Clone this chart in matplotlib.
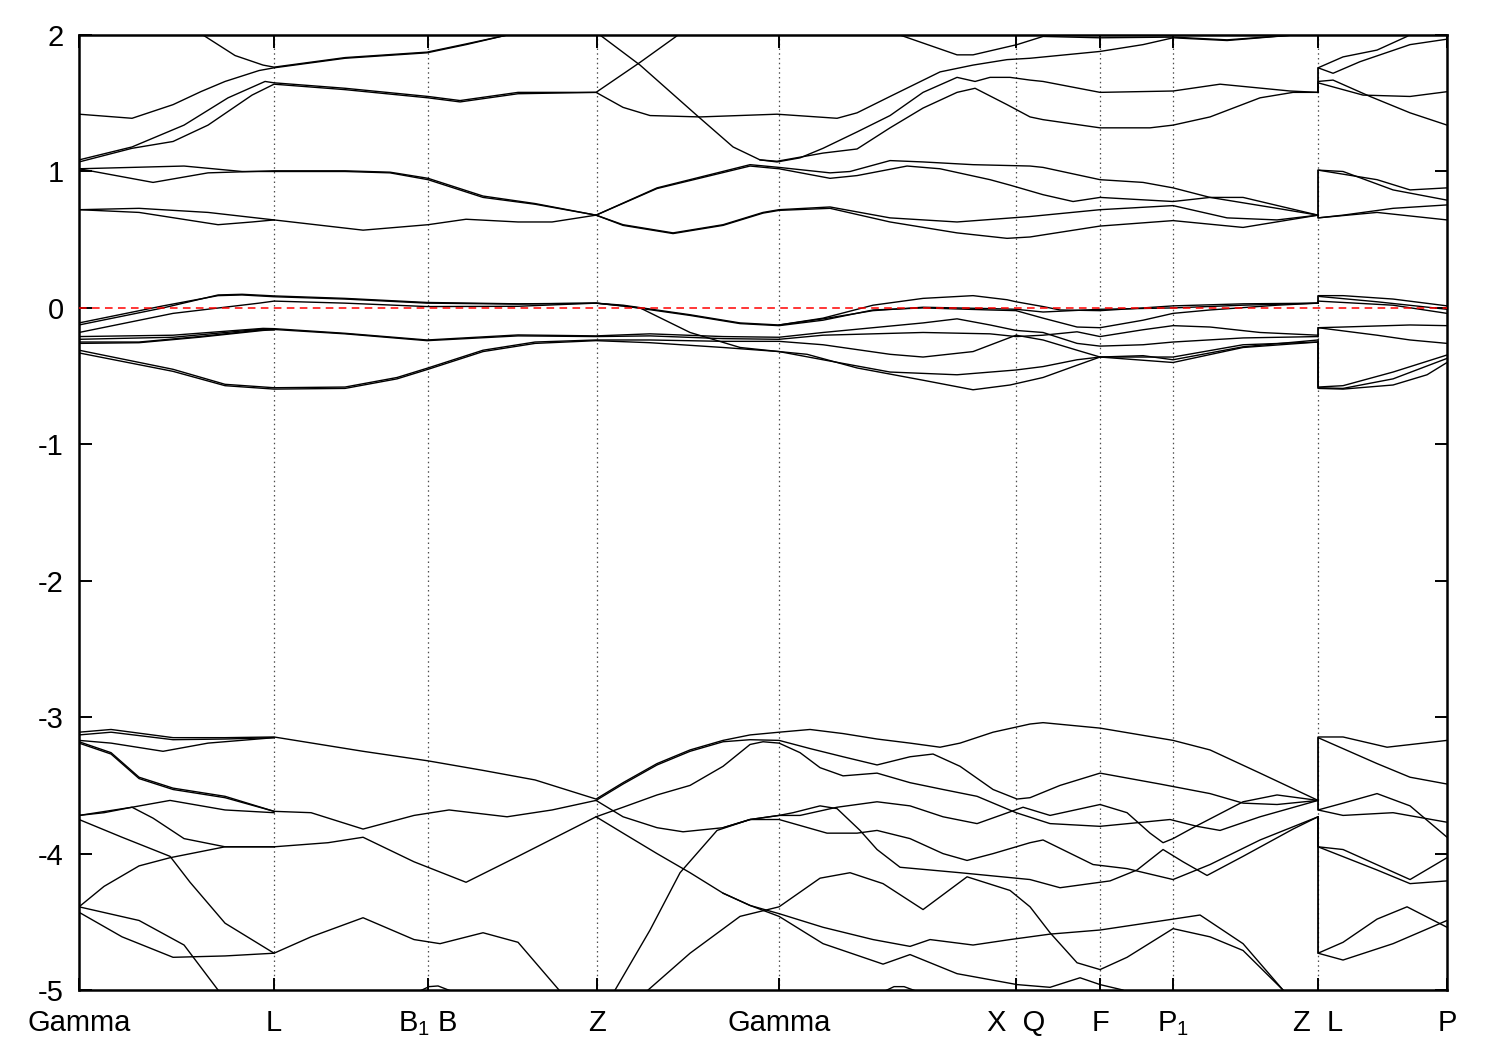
import matplotlib
matplotlib.use("Agg")
import matplotlib.pyplot as plt

plt.rcParams['font.family'] = ['Liberation Sans', 'DejaVu Sans']
plt.rcParams['mathtext.fontset'] = 'custom'
plt.rcParams['mathtext.rm'] = 'Liberation Sans'
plt.rcParams['mathtext.it'] = 'Liberation Sans'
plt.rcParams['axes.unicode_minus'] = False

# k-path (path length, arbitrary units) and labels
kpath_ticks = [0.0, 0.195, 0.349, 0.518, 0.700, 0.937, 1.021, 1.094, 1.239, 1.368]
kpath_labels = ['Gamma', 'L', 'B$_1$ B', 'Z', 'Gamma', 'X  Q', 'F', 'P$_1$', 'Z  L', 'P']
energy_ticks = [-5, -4, -3, -2, -1, 0, 1, 2]
e_fermi = 0.0

# conduction bands (eV), each piece is (k, E)
upper_bands = [
    ([0, .053, .094, .122, .146, .180, .195, .266, .348, .387, .428, .45],
     [1.42, 1.39, 1.49, 1.586, 1.66, 1.74, 1.76, 1.83, 1.87, 1.93, 2.0, 2.03]),
    ([.118, .124, .156, .184, .195, .266, .348, .387, .428, .45],
     [2.03, 2.0, 1.85, 1.78, 1.765, 1.835, 1.875, 1.935, 2.0, 2.03]),
    ([0, .053, .105, .149, .186, .195, .266, .349, .381, .439, .517, .561, .599, .604],
     [1.085, 1.18, 1.34, 1.54, 1.66, 1.65, 1.61, 1.55, 1.52, 1.58, 1.58, 1.80, 2.0, 2.03]),
    ([0, .053, .094, .129, .173, .195, .266, .349, .381, .439, .517, .544, .571, .621, .698, .758,
      .778, .811, .861, .894, .928, .951, 1.021, 1.064, 1.094, 1.148, 1.214, 1.24],
     [1.07, 1.17, 1.22, 1.34, 1.56, 1.64, 1.60, 1.54, 1.51, 1.57, 1.58, 1.47, 1.41, 1.40, 1.42, 1.39,
      1.43, 1.55, 1.73, 1.78, 1.82, 1.83, 1.88, 1.93, 1.98, 1.96, 2.0, 2.02]),
    ([.815, .821, .878, .894, .938, .951, .964, 1.021, 1.094, 1.148, 1.214, 1.24],
     [2.03, 2.0, 1.855, 1.855, 1.93, 1.96, 1.99, 1.98, 1.985, 1.965, 2.0, 2.02]),
    ([.517, .521, .561, .618, .654, .681, .698, .721, .744, .778, .811, .844, .878, .896, .911, .931,
      .951, .964, 1.021, 1.094, 1.141, 1.211, 1.239],
     [2.02, 2.0, 1.78, 1.41, 1.18, 1.085, 1.07, 1.10, 1.17, 1.29, 1.41, 1.58, 1.69, 1.66, 1.69, 1.69,
      1.67, 1.66, 1.58, 1.59, 1.64, 1.59, 1.58]),
    ([.681, .698, .744, .778, .811, .844, .878, .896, .928, .951, .964, 1.021, 1.071, 1.094, 1.131,
      1.181, 1.214, 1.239],
     [1.085, 1.075, 1.135, 1.165, 1.32, 1.465, 1.58, 1.61, 1.49, 1.40, 1.38, 1.32, 1.32, 1.34, 1.40,
      1.54, 1.58, 1.58]),
    ([.517, .578, .671, .700, .751, .771, .811, .844, .894, .951, .964, 1.021, 1.064, 1.094, 1.131,
      1.198, 1.239],
     [0.68, 0.88, 1.05, 1.03, 0.99, 1.0, 1.08, 1.07, 1.05, 1.04, 1.03, 0.94, 0.92, 0.88, 0.81,
      0.73, 0.68]),
    ([.517, .578, .671, .700, .751, .778, .828, .861, .911, .931, .964, .994, 1.021, 1.094, 1.131,
      1.164, 1.239],
     [0.68, 0.875, 1.04, 1.02, 0.95, 0.97, 1.04, 1.02, 0.94, 0.90, 0.83, 0.78, 0.81, 0.78, 0.81,
      0.81, 0.68]),
    ([.517, .544, .594, .644, .684, .700, .751, .811, .878, .951, 1.021, 1.094, 1.148, 1.198, 1.239],
     [0.68, 0.61, 0.55, 0.61, 0.70, 0.72, 0.74, 0.66, 0.63, 0.67, 0.72, 0.75, 0.66, 0.645, 0.68]),
    ([.517, .544, .594, .644, .684, .700, .751, .811, .878, .928, .951, .964, 1.021, 1.094, 1.164,
      1.239],
     [0.68, 0.605, 0.545, 0.605, 0.695, 0.715, 0.73, 0.63, 0.55, 0.51, 0.52, 0.535, 0.60, 0.64,
      0.59, 0.68]),
    ([0, .105, .163, .195, .266, .311, .349, .404, .456, .517],
     [1.02, 1.04, 1.0, 1.0, 1.0, 0.99, 0.94, 0.81, 0.76, 0.68]),
    ([0, .074, .129, .195, .266, .311, .349, .404, .456, .517],
     [1.02, 0.92, 0.99, 1.005, 1.005, 0.995, 0.95, 0.82, 0.765, 0.68]),
    ([0, .060, .129, .195, .284, .349, .387, .439, .473, .517],
     [0.72, 0.73, 0.70, 0.645, 0.57, 0.61, 0.65, 0.63, 0.63, 0.68]),
    ([0, .060, .139, .173, .195],
     [0.72, 0.70, 0.61, 0.63, 0.645]),
    ([1.239, 1.239, 1.264, 1.298, 1.328, 1.336], [1.58, 1.76, 1.84, 1.89, 1.99, 2.03]),
    ([1.239, 1.239, 1.254, 1.281, 1.331, 1.368], [1.58, 1.76, 1.72, 1.805, 1.93, 1.97]),
    ([1.239, 1.239, 1.284, 1.331, 1.368], [1.58, 1.65, 1.56, 1.55, 1.585]),
    ([1.239, 1.239, 1.254, 1.291, 1.331, 1.368], [1.58, 1.66, 1.67, 1.55, 1.43, 1.34]),
    ([1.239, 1.239, 1.264, 1.314, 1.368], [0.68, 1.01, 1.0, 0.865, 0.79]),
    ([1.239, 1.239, 1.298, 1.331, 1.368], [0.68, 1.01, 0.94, 0.865, 0.88]),
    ([1.239, 1.239, 1.264, 1.314, 1.368], [0.68, 0.66, 0.68, 0.73, 0.755]),
    ([1.239, 1.239, 1.298, 1.368], [0.68, 0.66, 0.70, 0.645]),
]

# bands around the Fermi level
fermi_bands = [
    ([0, .084, .139, .163, .195, .266, .348, .439, .517, .544, .611, .661, .700, .744, .794, .844,
      .894, .928, .937, .964, .981, 1.021, 1.064, 1.094, 1.164, 1.239],
     [-0.125, 0.0, 0.095, 0.10, 0.088, 0.07, 0.04, 0.03, 0.035, 0.02, -0.05, -0.11, -0.125, -0.075,
      0.02, 0.07, 0.09, 0.06, 0.045, 0.01, -0.015, -0.02, 0.0, 0.015, 0.03, 0.035]),
    ([0, .084, .139, .163, .195, .266, .348, .439, .517, .544, .611, .661, .700, .744, .794, .844,
      .911, .937, .964, .998, 1.021, 1.064, 1.094, 1.131, 1.198, 1.239],
     [-0.11, 0.015, 0.09, 0.095, 0.082, 0.065, 0.035, 0.028, 0.035, 0.015, -0.055, -0.115, -0.13,
      -0.09, -0.015, 0.0, -0.015, -0.02, -0.075, -0.14, -0.145, -0.09, -0.04, -0.015, 0.02, 0.035]),
    ([.700, .744, .794, .844, .911, .937, .964, 1.021, 1.094, 1.164, 1.239],
     [-0.125, -0.08, -0.02, 0.005, -0.005, -0.01, -0.03, -0.01, 0.0, 0.02, 0.035]),
    ([0, .094, .180, .195, .266, .348, .439, .517, .561, .611, .661, .700, .728, .778, .844, .894,
      .931, .964, .998, 1.021, 1.094, 1.164, 1.239],
     [-0.18, -0.04, 0.035, 0.05, 0.035, 0.01, 0.012, 0.035, 0.0, -0.18, -0.29, -0.32, -0.34, -0.44,
      -0.53, -0.60, -0.565, -0.51, -0.42, -0.36, -0.40, -0.29, -0.25]),
    ([0, .094, .184, .195, .266, .348, .439, .517, .571, .644, .700, .744, .844, .878, .911, .937,
      .964, .998, 1.021, 1.064, 1.094, 1.164, 1.239],
     [-0.21, -0.20, -0.15, -0.152, -0.186, -0.235, -0.198, -0.205, -0.19, -0.21, -0.215, -0.18,
      -0.11, -0.08, -0.125, -0.165, -0.18, -0.26, -0.28, -0.27, -0.25, -0.22, -0.21]),
    ([0, .094, .184, .195, .266, .348, .439, .517, .571, .644, .700, .744, .844, .911, .937, .964,
      .998, 1.021, 1.064, 1.094, 1.131, 1.181, 1.239],
     [-0.23, -0.215, -0.155, -0.158, -0.19, -0.24, -0.205, -0.21, -0.205, -0.225, -0.23, -0.20,
      -0.18, -0.19, -0.21, -0.20, -0.175, -0.21, -0.16, -0.13, -0.14, -0.18, -0.20]),
    ([0, .060, .120, .184, .195], [-0.25, -0.25, -0.21, -0.16, -0.16]),
    ([0, .060, .120, .184, .195], [-0.26, -0.255, -0.215, -0.165, -0.16]),
    ([0, .094, .146, .195, .266, .318, .349, .404, .456, .517, .571, .644, .700, .744, .811, .844,
      .894, .937, .964, .998, 1.021, 1.064, 1.094, 1.164, 1.239],
     [-0.31, -0.45, -0.56, -0.585, -0.58, -0.51, -0.44, -0.31, -0.25, -0.235, -0.235, -0.245,
      -0.245, -0.27, -0.34, -0.36, -0.32, -0.20, -0.235, -0.31, -0.36, -0.35, -0.38, -0.285,
      -0.235]),
    ([0, .094, .146, .195, .266, .318, .349, .404, .456, .517, .571, .644, .700, .744, .811, .878,
      .937, .964, .998, 1.021, 1.094, 1.164, 1.239],
     [-0.33, -0.465, -0.57, -0.595, -0.59, -0.52, -0.45, -0.32, -0.26, -0.24, -0.255, -0.29, -0.32,
      -0.38, -0.47, -0.49, -0.455, -0.43, -0.38, -0.36, -0.36, -0.27, -0.25]),
    ([1.239, 1.239, 1.264, 1.314, 1.368], [0.035, 0.09, 0.09, 0.065, 0.015]),
    ([1.239, 1.239, 1.298, 1.368], [0.035, 0.085, 0.045, -0.01]),
    ([1.239, 1.239, 1.314, 1.368], [0.035, 0.05, 0.02, -0.04]),
    ([1.239, 1.239, 1.264, 1.331, 1.368], [-0.20, -0.145, -0.14, -0.125, -0.13]),
    ([1.239, 1.239, 1.298, 1.331, 1.368], [-0.21, -0.145, -0.20, -0.235, -0.26]),
    ([1.239, 1.239, 1.264, 1.314, 1.368], [-0.235, -0.58, -0.57, -0.47, -0.345]),
    ([1.239, 1.239, 1.264, 1.314, 1.348, 1.368], [-0.25, -0.59, -0.595, -0.565, -0.49, -0.40]),
    ([1.239, 1.239, 1.264, 1.314, 1.368], [-0.25, -0.585, -0.59, -0.52, -0.37]),
]

# deeper valence bands
lower_bands = [
    ([0, .032, .094, .146, .195, .284, .349, .404, .456, .517, .544, .578, .611, .644, .671, .700,
      .731, .764, .798, .831, .861, .881, .914, .951, .964, 1.021, 1.094, 1.131, 1.181, 1.239],
     [-3.11, -3.09, -3.15, -3.15, -3.145, -3.25, -3.32, -3.39, -3.46, -3.60, -3.48, -3.34, -3.24,
      -3.17, -3.13, -3.11, -3.09, -3.12, -3.16, -3.19, -3.22, -3.19, -3.11, -3.05, -3.04, -3.08,
      -3.17, -3.24, -3.41, -3.61]),
    ([0, .032, .094, .146, .195], [-3.13, -3.11, -3.165, -3.16, -3.15]),
    ([0, .032, .084, .129, .195], [-3.17, -3.19, -3.25, -3.19, -3.15]),
    ([.517, .544, .578, .611, .644, .671, .700, .731, .764, .798, .831, .854, .881, .914, .938, .951,
      .981, 1.021, 1.081, 1.131, 1.164, 1.198, 1.239],
     [-3.61, -3.49, -3.35, -3.25, -3.18, -3.165, -3.17, -3.23, -3.29, -3.35, -3.29, -3.27, -3.36,
      -3.53, -3.60, -3.59, -3.50, -3.41, -3.49, -3.56, -3.63, -3.64, -3.61]),
    ([0, .032, .060, .094, .146, .195, .232, .284, .335, .370, .428, .473, .517, .544, .578, .604,
      .644, .671, .700, .721, .758, .798, .831, .864, .898, .921, .944, .971, 1.021, 1.048, 1.071,
      1.084, 1.094, 1.114, 1.164, 1.198, 1.239],
     [-3.18, -3.26, -3.44, -3.52, -3.58, -3.69, -3.70, -3.82, -3.72, -3.68, -3.73, -3.68, -3.61,
      -3.73, -3.81, -3.84, -3.81, -3.75, -3.72, -3.72, -3.66, -3.62, -3.65, -3.73, -3.78, -3.72,
      -3.66, -3.72, -3.64, -3.70, -3.85, -3.92, -3.89, -3.81, -3.62, -3.57, -3.61]),
    ([0, .032, .060, .094, .146, .195], [-3.19, -3.27, -3.45, -3.53, -3.59, -3.69]),
    ([0, .053, .091, .146, .195], [-3.72, -3.66, -3.61, -3.68, -3.70]),
    ([0, .025, .053, .074, .105, .146, .195, .249, .284, .335, .387, .439, .517, .544, .578, .611,
      .644, .671, .684, .700, .721, .741, .764, .798, .831, .864, .898, .937, .971, 1.021, 1.091,
      1.118, 1.141, 1.181, 1.239],
     [-3.72, -3.70, -3.66, -3.74, -3.89, -3.95, -3.95, -3.92, -3.88, -4.06, -4.21, -4.02, -3.73,
      -3.66, -3.57, -3.50, -3.36, -3.20, -3.18, -3.19, -3.26, -3.37, -3.43, -3.41, -3.48, -3.53,
      -3.58, -3.70, -3.78, -3.80, -3.75, -3.80, -3.83, -3.73, -3.61]),
    ([0, .043, .091, .111, .146, .195], [-3.75, -3.88, -4.02, -4.21, -4.51, -4.73]),
    ([0, .025, .060, .091, .146, .195], [-4.39, -4.24, -4.09, -4.03, -3.95, -3.95]),
    ([0, .060, .105, .139, .145], [-4.39, -4.49, -4.67, -5.0, -5.06]),
    ([0, .043, .094, .146, .195, .232, .284, .335, .361, .404, .439, .480, .485],
     [-4.43, -4.61, -4.76, -4.75, -4.73, -4.61, -4.47, -4.63, -4.66, -4.58, -4.65, -5.0, -5.06]),
    ([.340, .350, .359, .373], [-5.01, -4.975, -4.97, -5.01]),
    ([.644, .671, .700, .714, .741, .758, .781, .798, .821, .881, .951, .981, 1.031, 1.058, 1.084,
      1.104, 1.128, 1.164, 1.214, 1.239],
     [-3.81, -3.75, -3.72, -3.70, -3.65, -3.67, -3.83, -3.97, -4.10, -4.14, -4.19, -4.25, -4.20,
      -4.12, -3.97, -4.06, -4.16, -4.02, -3.82, -3.73]),
    ([.533, .536, .571, .601, .638, .671, .700, .748, .778, .798, .831, .864, .888, .914, .951, .964,
      1.014, 1.048, 1.094, 1.131, 1.181, 1.239],
     [-5.06, -5.0, -4.56, -4.14, -3.83, -3.75, -3.75, -3.85, -3.85, -3.83, -3.89, -4.0, -4.05,
      -4.0, -3.92, -3.90, -4.08, -4.11, -4.19, -4.08, -3.90, -3.73]),
    ([.517, .544, .578, .611, .644, .671, .700, .744, .794, .831, .851, .894, .931, .971, 1.021,
      1.094, 1.121, 1.164, 1.204, 1.209],
     [-3.73, -3.85, -4.0, -4.14, -4.29, -4.38, -4.44, -4.54, -4.63, -4.68, -4.63, -4.67, -4.63,
      -4.59, -4.56, -4.48, -4.45, -4.66, -5.0, -5.06]),
    ([.566, .569, .611, .661, .700, .741, .771, .804, .844, .888, .931, .951, .971, .998, 1.021,
      1.048, 1.094, 1.131, 1.164, 1.204, 1.208],
     [-5.06, -5.0, -4.73, -4.46, -4.39, -4.18, -4.14, -4.22, -4.41, -4.17, -4.27, -4.39, -4.58,
      -4.80, -4.85, -4.76, -4.55, -4.61, -4.71, -5.0, -5.06]),
    ([.644, .671, .700, .744, .804, .831, .878, .938, .971, 1.001, 1.021, 1.044, 1.05],
     [-4.29, -4.38, -4.46, -4.66, -4.81, -4.74, -4.88, -4.96, -4.98, -4.91, -4.96, -5.0, -5.06]),
    ([.805, .815, .825, .838], [-5.01, -4.975, -4.975, -5.01]),
    ([1.239, 1.239, 1.264, 1.308, 1.368], [-3.61, -3.145, -3.145, -3.22, -3.17]),
    ([1.239, 1.239, 1.298, 1.331, 1.368], [-3.61, -3.15, -3.34, -3.44, -3.49]),
    ([1.239, 1.239, 1.264, 1.298, 1.331, 1.368], [-3.61, -3.68, -3.63, -3.56, -3.65, -3.88]),
    ([1.239, 1.239, 1.264, 1.314, 1.368], [-3.61, -3.68, -3.72, -3.70, -3.77]),
    ([1.239, 1.239, 1.264, 1.331, 1.368], [-3.73, -3.95, -3.97, -4.19, -4.03]),
    ([1.239, 1.239, 1.298, 1.331, 1.368], [-3.73, -3.95, -4.12, -4.22, -4.20]),
    ([1.239, 1.239, 1.264, 1.314, 1.368], [-3.73, -4.73, -4.78, -4.66, -4.49]),
    ([1.239, 1.239, 1.264, 1.298, 1.328, 1.368], [-3.73, -4.73, -4.65, -4.48, -4.39, -4.54]),
]


def plotBands(ax, bands):
    for k, e in bands:
        ax.plot(k, e, color='black', lw=1.0, solid_joinstyle='round', zorder=2)


fig = plt.figure(figsize=(15, 10.5), dpi=100)
ax = fig.add_axes([0.0527, 0.0571, 0.912, 0.9095])

plotBands(ax, upper_bands)
plotBands(ax, fermi_bands)
plotBands(ax, lower_bands)

for x in kpath_ticks[1:-1]:
    ax.axvline(x, color='0.3', ls=(0, (1.2, 2.6)), lw=0.9, zorder=1)
ax.axhline(e_fermi, color='red', ls=(0, (5, 3.5)), lw=1.1, zorder=3)

ax.set_xlim(kpath_ticks[0], kpath_ticks[-1])
ax.set_ylim(-5, 2)
ax.set_xticks(kpath_ticks)
ax.set_xticklabels(kpath_labels)
ax.set_yticks(energy_ticks)
ax.set_yticklabels([str(v) for v in energy_ticks])
ax.tick_params(direction='in', length=9, width=1.4, top=True, right=True, labelsize=21)
ax.tick_params(axis='x', pad=14)
ax.tick_params(axis='y', pad=11)
for s in ax.spines.values():
    s.set_linewidth(1.8)

fig.savefig('out.png', dpi=100)
